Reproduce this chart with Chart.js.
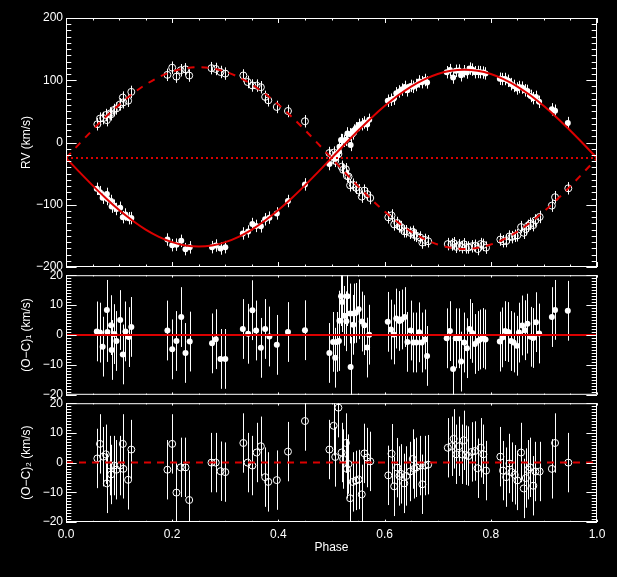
<!DOCTYPE html>
<html><head><meta charset="utf-8">
<script src="https://cdn.jsdelivr.net/npm/chart.js@4.4.1/dist/chart.umd.min.js"></script>
<style>
html,body{margin:0;padding:0;background:#000;width:617px;height:577px;overflow:hidden}
canvas{position:absolute;left:0}
</style></head><body>
<canvas id="c1" width="617" height="280" style="top:0"></canvas>
<canvas id="c2" width="617" height="140" style="top:265px"></canvas>
<canvas id="c3" width="617" height="184" style="top:393px"></canvas>
<script>
// ---------- data ----------
const gamma = -25;
const err1 = 10, err2 = 10;
const phase1 = [0.058,0.064,0.069,0.077,0.078,0.085,0.086,0.091,0.095,0.102,0.107,0.112,0.118,0.123,
0.191,0.200,0.208,0.217,0.225,0.233,
0.275,0.282,0.291,0.300,
0.333,0.343,0.351,0.358,0.367,0.375,0.383,0.397,0.418,0.450,
0.496,0.503,0.507,0.510,0.514,0.515,0.518,0.520,0.524,0.528,0.530,0.535,0.536,0.541,0.542,0.546,0.551,0.557,0.562,0.567,0.571,
0.606,0.612,0.617,0.622,0.628,0.632,0.638,0.643,0.649,0.654,0.660,0.665,0.670,0.676,0.680,
0.717,0.723,0.729,0.734,0.740,0.744,0.750,0.755,0.760,0.765,0.770,0.775,0.780,0.786,0.790,
0.817,0.822,0.827,0.833,0.838,0.843,0.849,0.853,0.859,0.864,0.869,0.875,0.880,0.885,0.891,
0.915,0.921,0.945];
const rv1 = [-74.4,-79.8,-88.6,-82.6,-90.8,-94.0,-103.0,-101.5,-106.8,-104.9,-119.9,-115.7,-121.6,-121.4,
-155.9,-164.9,-164.1,-158.0,-171.3,-168.4,
-168.1,-165.5,-170.3,-168.1,
-146.1,-143.0,-131.0,-134.0,-134.7,-123.4,-120.7,-113.9,-94.0,-67.3,
-34.6,-24.6,-26.4,-18.4,-14.5,-6.8,4.0,3.8,2.7,4.5,14.6,13.2,-3.9,14.6,19.2,22.9,28.3,29.3,32.2,28.8,36.4,
67.1,68.7,70.4,79.0,82.0,85.0,89.3,83.8,90.9,89.4,92.4,98.1,96.9,100.4,96.5,
112.9,116.3,104.4,115.2,115.6,108.0,114.5,112.5,118.7,117.1,112.9,113.3,113.0,112.4,111.0,
102.4,101.9,102.0,99.1,93.8,90.9,86.8,89.1,88.2,83.8,82.9,74.8,71.2,73.2,65.3,
53.3,51.0,31.2];
const oc1 = [1.2,0.8,-3.9,8.4,1.0,3.3,-5.0,0.3,-2.0,5.0,-6.5,1.2,-0.7,2.7,
1.5,-4.8,-2.0,6.0,-6.0,-2.2,
-2.8,-1.4,-8.0,-8.0,
2.0,0.4,8.3,1.5,-4.3,2.0,-0.5,-3.3,1.0,1.6,
-6.0,-2.3,-7.6,-2.3,-2.0,4.8,13.0,11.0,6.4,4.6,13.0,7.2,-10.7,3.4,7.2,7.4,8.6,4.5,3.3,-4.2,0.1,
4.4,1.8,0.2,5.5,4.7,5.2,6.0,-2.3,1.5,-2.5,-2.5,0.9,-2.5,-1.5,-7.0,
-1.1,1.3,-11.4,-1.1,-1.1,-8.9,-2.5,-4.4,2.0,0.7,-3.0,-2.0,-1.5,-1.0,-1.5,
-2.2,-0.8,1.3,1.0,-2.0,-2.5,-3.6,0.8,3.2,1.6,3.8,-0.6,-1.0,4.3,0.5,
6.0,8.4,8.1];
const phase2 = [0.059,0.064,0.070,0.075,0.077,0.083,0.085,0.090,0.095,0.102,0.107,0.108,0.117,0.123,
0.191,0.200,0.208,0.216,0.225,0.232,
0.274,0.282,0.291,0.300,
0.334,0.342,0.351,0.359,0.367,0.375,0.381,0.397,0.418,0.450,
0.496,0.504,0.507,0.513,0.519,0.522,0.527,0.529,0.532,0.535,0.540,0.546,0.551,0.557,0.562,0.567,0.573,
0.607,0.613,0.618,0.624,0.628,0.631,0.637,0.641,0.648,0.653,0.656,0.660,0.667,0.671,0.676,0.682,
0.719,0.726,0.730,0.735,0.740,0.745,0.749,0.753,0.758,0.764,0.770,0.775,0.781,0.786,0.791,
0.818,0.823,0.829,0.835,0.839,0.845,0.850,0.857,0.862,0.866,0.870,0.874,0.880,0.884,0.892,
0.915,0.921,0.946];
const rv2 = [29.3,38.4,39.2,44.1,35.9,46.7,45.3,52.2,54.7,61.3,72.2,64.5,67.1,81.3,
108.7,120.2,105.8,116.1,117.6,107.5,
119.4,118.1,113.3,110.7,
107.7,97.2,91.6,91.4,88.8,73.3,67.8,57.1,50.6,34.1,
-16.9,-16.3,-29.5,-18.4,-39.0,-43.9,-43.0,-53.6,-54.7,-68.8,-67.8,-72.6,-76.7,-86.9,-77.3,-83.0,-89.2,
-120.2,-117.2,-131.6,-129.3,-134.7,-135.9,-142.7,-142.6,-145.0,-143.5,-148.4,-149.9,-152.6,-160.7,-156.5,-158.6,
-163.2,-163.8,-161.8,-167.6,-165.2,-168.1,-163.5,-168.5,-168.6,-166.8,-165.9,-171.1,-163.2,-164.5,-168.9,
-155.9,-158.6,-158.3,-151.0,-152.0,-149.9,-149.1,-135.9,-145.0,-139.0,-133.8,-130.6,-132.7,-125.2,-119.6,
-101.4,-87.9,-73.6];
const oc2 = [1.4,6.3,2.0,2.8,-7.0,-1.0,-4.0,-1.0,-2.4,-1.0,6.3,-2.1,-5.8,4.4,
-2.4,6.3,-10.1,-1.6,-1.6,-12.6,
0,0,-2.9,-3.2,
6.6,0,-1.0,3.4,5.5,-4.9,-6.5,-5.9,3.7,14.0,
4.4,12.4,1.9,18.5,3.4,1.2,6.6,-2.1,-0.5,-12.0,-6.5,-6.0,-5.7,-10.7,3.1,1.7,0.4,
-4.3,3.0,-8.0,-1.7,-4.5,-3.8,-7.0,-4.5,-3.0,1.2,-2.1,-1.6,-1.0,-7.3,-1.0,-0.7,
5.0,5.5,8.0,2.8,5.5,2.8,7.5,2.5,2.2,3.6,3.9,-1.9,5.0,2.8,-2.7,
2.0,-2.7,-4.9,-0.3,-3.2,-4.1,-6.0,3.4,-8.7,-5.2,-2.4,-1.6,-7.8,-3.0,-3.0,
-2.1,6.6,0];
const modelPhase = [0,0.025,0.05,0.075,0.1,0.125,0.15,0.175,0.2,0.225,0.25,0.275,0.3,0.325,0.35,0.375,0.4,0.425,0.45,0.475,0.5,
0.525,0.55,0.575,0.6,0.625,0.65,0.675,0.7,0.725,0.75,0.775,0.8,0.825,0.85,0.875,0.9,0.925,0.95,0.975,1];
const model1 = [-25,-47.2,-68.9,-89.5,-108.5,-125.4,-139.9,-151.5,-160.1,-165.3,-167,-165.3,-160.1,-151.5,-139.9,-125.4,-108.5,-89.5,-68.9,-47.2,-25,
-2.8,18.9,39.5,58.5,75.4,89.9,101.5,110.1,115.3,117,115.3,110.1,101.5,89.9,75.4,58.5,39.5,18.9,-2.8,-25];
const model2 = [-25,-2.2,20.1,41.3,60.8,78.2,93.1,105.1,113.9,119.2,121,119.2,113.9,105.1,93.1,78.2,60.8,41.3,20.1,-2.2,-25,
-47.8,-70.1,-91.3,-110.8,-128.2,-143.1,-155.1,-163.9,-169.2,-171,-169.2,-163.9,-155.1,-143.1,-128.2,-110.8,-91.3,-70.1,-47.8,-25];
const xTickLabels = ['0.0','0.2','0.4','0.6','0.8','1.0'];

// ---------- style ----------
const RED = 'rgb(220,0,0)';
Chart.defaults.font.family = "'Liberation Sans', Arial, sans-serif";
Chart.defaults.font.size = 12;
Chart.defaults.color = '#fff';

const pts = (xs, ys) => xs.map((x, i) => ({x: x, y: ys[i]}));
const yTick = v => v < 0 ? '\u2212' + Math.abs(v) : String(v);

const errbars = {
  id: 'errbars',
  beforeDatasetsDraw(chart) {
    const {ctx, chartArea: a} = chart; const ys = chart.scales.y;
    ctx.save();
    ctx.beginPath(); ctx.rect(a.left, a.top, a.right - a.left, a.bottom - a.top); ctx.clip();
    ctx.strokeStyle = '#fff'; ctx.lineWidth = 1;
    ctx.beginPath();
    chart.data.datasets.forEach((ds, i) => {
      if (ds.err == null) return;
      const meta = chart.getDatasetMeta(i);
      meta.data.forEach((pt, j) => {
        const v = ds.data[j].y; const x = Math.round(pt.x) + 0.5;
        ctx.moveTo(x, ys.getPixelForValue(v + ds.err));
        ctx.lineTo(x, ys.getPixelForValue(v - ds.err));
      });
    });
    ctx.stroke(); ctx.restore();
  }
};
const frame = {
  id: 'frame',
  afterDraw(chart, args, o) {
    const {ctx, chartArea: a} = chart; const xs = chart.scales.x, ys = chart.scales.y;
    const w = a.right - a.left, h = a.bottom - a.top;
    const xMaj = 0.02 * h, yMaj = 0.02 * w;
    ctx.save(); ctx.strokeStyle = '#fff'; ctx.lineWidth = 1;
    ctx.strokeRect(a.left + 0.5, a.top + 0.5, w - 1, h - 1);
    ctx.beginPath();
    for (let i = 0; i <= o.xCount; i++) {
      const px = Math.round(xs.getPixelForValue(xs.min + i * o.xStep)) + 0.5;
      const L = (i % o.xEvery === 0) ? xMaj : xMaj / 2;
      ctx.moveTo(px, a.bottom); ctx.lineTo(px, a.bottom - L);
      ctx.moveTo(px, a.top); ctx.lineTo(px, a.top + L);
    }
    for (let i = 0; i <= o.yCount; i++) {
      const py = Math.round(ys.getPixelForValue(ys.min + i * o.yStep)) + 0.5;
      const L = (i % o.yEvery === 0) ? yMaj : yMaj / 2;
      ctx.moveTo(a.left, py); ctx.lineTo(a.left + L, py);
      ctx.moveTo(a.right, py); ctx.lineTo(a.right - L, py);
    }
    ctx.stroke(); ctx.restore();
  }
};

function yScale(min, max, step, title, titlePad) {
  return {
    type: 'linear', min: min, max: max,
    ticks: {stepSize: step, padding: 3, callback: yTick, color: '#fff'},
    grid: {display: false, drawTicks: false}, border: {display: false},
    title: {display: true, text: title, color: '#fff', padding: {top: titlePad, bottom: 0}},
    afterFit(s) { s.width = 66; }
  };
}
const baseOpts = (pad, ys, xs, fr) => ({
  responsive: false, animation: false, events: [],
  layout: {padding: pad},
  plugins: {legend: {display: false}, tooltip: {enabled: false}, frame: fr},
  scales: {x: xs, y: ys}
});
const hiddenX = {type: 'linear', min: 0, max: 1, display: false};

// ---------- top panel ----------
new Chart(document.getElementById('c1'), {
  type: 'scatter',
  data: {datasets: [
    {data: pts(modelPhase, model1), showLine: true, borderColor: RED, borderWidth: 2, pointRadius: 0, cubicInterpolationMode: 'monotone', order: 0},
    {data: pts(modelPhase, model2), showLine: true, borderColor: RED, borderWidth: 2, borderDash: [7, 7], pointRadius: 0, cubicInterpolationMode: 'monotone', order: 0},
    {data: [{x: 0, y: gamma}, {x: 1, y: gamma}], showLine: true, borderColor: RED, borderWidth: 2, borderDash: [2, 3], pointRadius: 0, order: 0},
    {data: pts(phase1, rv1), pointRadius: 3, backgroundColor: '#fff', borderWidth: 0, err: err1, order: 1},
    {data: pts(phase2, rv2), pointRadius: 3.5, backgroundColor: 'rgba(0,0,0,0)', borderColor: '#fff', borderWidth: 1, err: err2, order: 1}
  ]},
  options: baseOpts({left: 0, right: 20, top: 18, bottom: 13},
    yScale(-200, 200, 100, 'RV (km/s)', 19), hiddenX,
    {xCount: 20, xStep: 0.05, xEvery: 4, yCount: 40, yStep: 10, yEvery: 10}),
  plugins: [errbars, frame]
});

// ---------- middle panel ----------
new Chart(document.getElementById('c2'), {
  type: 'scatter',
  data: {datasets: [
    {data: [{x: 0, y: 0}, {x: 1, y: 0}], showLine: true, borderColor: RED, borderWidth: 2, pointRadius: 0, order: 0},
    {data: pts(phase1, oc1), pointRadius: 3, backgroundColor: '#fff', borderWidth: 0, err: err1, order: 1}
  ]},
  options: baseOpts({left: 0, right: 20, top: 8, bottom: 10},
    yScale(-20, 20, 10, '(O\u2212C)\u2081 (km/s)', 19), hiddenX,
    {xCount: 20, xStep: 0.05, xEvery: 4, yCount: 40, yStep: 1, yEvery: 10}),
  plugins: [errbars, frame]
});

// ---------- bottom panel ----------
new Chart(document.getElementById('c3'), {
  type: 'scatter',
  data: {datasets: [
    {data: [{x: 0, y: 0}, {x: 1, y: 0}], showLine: true, borderColor: RED, borderWidth: 2, borderDash: [7, 6], pointRadius: 0, order: 0},
    {data: pts(phase2, oc2), pointRadius: 3.5, backgroundColor: 'rgba(0,0,0,0)', borderColor: '#fff', borderWidth: 1, err: err2, order: 1}
  ]},
  options: baseOpts({left: 0, right: 20, top: 8, bottom: 10},
    yScale(-20, 20, 10, '(O\u2212C)\u2082 (km/s)', 19),
    {type: 'linear', min: 0, max: 1,
     ticks: {stepSize: 0.2, padding: 5, maxRotation: 0, autoSkip: false, color: '#fff',
             callback: (v, i) => xTickLabels[i]},
     grid: {display: false, drawTicks: false}, border: {display: false},
     title: {display: true, text: 'Phase', color: '#fff', padding: {top: 0, bottom: 12}},
     afterFit(s) { s.height = 45; }},
    {xCount: 20, xStep: 0.05, xEvery: 4, yCount: 40, yStep: 1, yEvery: 10}),
  plugins: [errbars, frame]
});
</script>
</body></html>
